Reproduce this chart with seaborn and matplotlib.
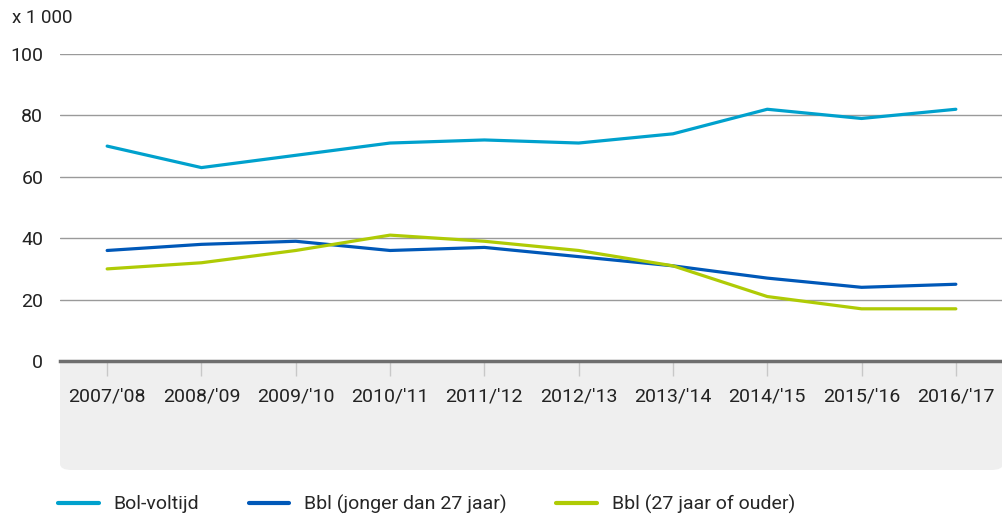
import pandas as pd
import matplotlib.pyplot as plt
import seaborn as sns
from matplotlib.patches import FancyBboxPatch

# Data
years = ["2007/'08", "2008/'09", "2009/'10", "2010/'11", "2011/'12",
         "2012/'13", "2013/'14", "2014/'15", "2015/'16", "2016/'17"]
bol_voltijd = [70, 63, 67, 71, 72, 71, 74, 82, 79, 82]
bbl_jong = [36, 38, 39, 36, 37, 34, 31, 27, 24, 25]
bbl_oud = [30, 32, 36, 41, 39, 36, 31, 21, 17, 17]
series_names = ["Bol-voltijd", "Bbl (jonger dan 27 jaar)", "Bbl (27 jaar of ouder)"]
colors = ["#00a1cd", "#0058b8", "#afcb05"]

df = pd.DataFrame({
    "jaar": years * 3,
    "aantal": bol_voltijd + bbl_jong + bbl_oud,
    "reeks": [s for s in series_names for _ in years],
})

sns.set_style("white")
plt.rcParams["font.family"] = ["Roboto", "DejaVu Sans"]

fig = plt.figure(figsize=(10.03, 5.15), dpi=100)
fig.patch.set_zorder(-10)
ax = fig.add_axes([60 / 1003, 1 - 361 / 515, 943 / 1003, 307 / 515])
ax.set_zorder(2)
ax.patch.set_alpha(0)

# grey band behind the x labels (rounded bottom corners)
band_bottom = FancyBboxPatch((60 / 1003, 1 - 470 / 515), 943 / 1003, 109 / 515,
                             boxstyle="round,pad=0,rounding_size=0.012",
                             transform=fig.transFigure, facecolor="#efefef",
                             edgecolor="none", zorder=-5)
band_top = plt.Rectangle((60 / 1003, 1 - 400 / 515), 943 / 1003, 39 / 515,
                         transform=fig.transFigure, facecolor="#efefef",
                         edgecolor="none", zorder=-5)
fig.patches.extend([band_bottom, band_top])

sns.lineplot(data=df, x="jaar", y="aantal", hue="reeks", palette=colors,
             linewidth=2.3, sort=False, ax=ax, legend=False)

ax.set_xlim(-0.5, len(years) - 0.5)
ax.set_ylim(0, 100)
ax.set_yticks([0, 20, 40, 60, 80, 100])
ax.grid(axis="y", color="#9a9a9a", linewidth=1)
ax.grid(axis="x", visible=False)
for side in ["top", "right", "left"]:
    ax.spines[side].set_visible(False)
ax.spines["bottom"].set_color("#6e6e6e")
ax.spines["bottom"].set_linewidth(2.5)
ax.set_xlabel("")
ax.set_ylabel("")
ax.tick_params(axis="y", left=False, length=0, pad=12, labelsize=14,
               labelcolor="#222222")
ax.tick_params(axis="x", bottom=True, length=11, width=1, color="#c8c8c8",
               pad=8, labelsize=14, labelcolor="#222222")

fig.text(12 / 1003, 1 - 18 / 515, "x 1 000", fontsize=13.5, color="#222222",
         va="center", ha="left")

# legend
handles = [plt.Line2D([0], [0], color=c, linewidth=3) for c in colors]
fig.legend(handles, series_names, loc="center left",
           bbox_to_anchor=(58 / 1003, 1 - 504 / 515), ncol=3, frameon=False,
           borderaxespad=0, borderpad=0,
           fontsize=14, handlelength=2.1, columnspacing=2.55, handletextpad=0.75)

fig.savefig("out.png", dpi=100)
